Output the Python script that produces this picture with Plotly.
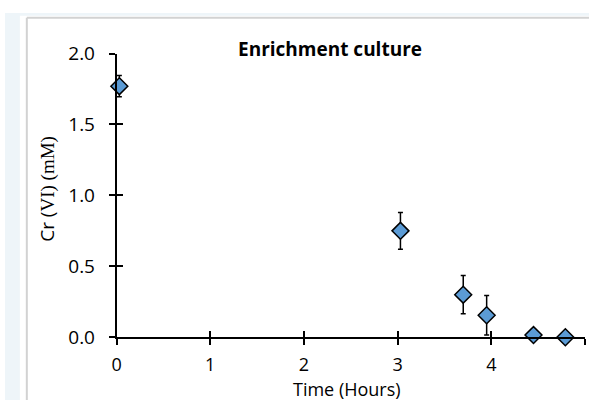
import plotly.graph_objects as go

# Cr(VI) concentration over time in the enrichment culture
time_h = [0.03, 3.03, 3.70, 3.95, 4.45, 4.79]
cr_mM = [1.77, 0.75, 0.30, 0.155, 0.015, 0.0]
cr_err = [0.075, 0.13, 0.135, 0.14, 0.01, 0.0]

x_ticks = [0, 1, 2, 3, 4, 5]
y_ticks = [0.0, 0.5, 1.0, 1.5, 2.0]
y_tick_text = ["0.0", "0.5", "1.0", "1.5", "2.0"]

W, H = 589, 413
SANS = "Open Sans"

fig = go.Figure()
fig.add_trace(go.Scatter(
    x=time_h, y=cr_mM, mode="markers",
    marker=dict(symbol="diamond", size=13, color="#5B9BD5",
                line=dict(color="black", width=1.5)),
    error_y=dict(type="data", array=cr_err, visible=True,
                 color="black", thickness=1.5, width=2.5),
    cliponaxis=False, showlegend=False,
))
# invisible trace that carries the inner tick marks
fig.add_trace(go.Scatter(x=[None], y=[None], xaxis="x2", yaxis="y2",
                         showlegend=False, hoverinfo="skip"))

xdom = [112.5 / W, 585 / W]
ydom = [(H - 346) / H, (H - 43.3) / H]

axis_common = dict(showgrid=False, zeroline=False, tickcolor="black",
                   tickwidth=1.5, ticklen=6)

fig.update_layout(
    width=W, height=H,
    margin=dict(l=0, r=0, t=0, b=0, pad=0),
    paper_bgcolor="white", plot_bgcolor="white",
    font=dict(family=SANS, color="black", size=19),
    xaxis=dict(domain=xdom, range=[0, 5], tickvals=x_ticks,
               showline=True, linecolor="black", linewidth=1.5,
               ticks="outside", ticklabelstandoff=4,
               tickfont=dict(size=18), **axis_common),
    yaxis=dict(domain=ydom, range=[0, 2], tickvals=y_ticks,
               ticktext=y_tick_text, showline=True, linecolor="black",
               linewidth=1.5, ticks="outside", ticklabelstandoff=10,
               tickfont=dict(size=19), **axis_common),
    xaxis2=dict(overlaying="x", anchor="y", side="bottom", range=[0, 5],
                tickvals=x_ticks, ticks="inside", showticklabels=False,
                showline=False, **axis_common),
    yaxis2=dict(overlaying="y", anchor="x", side="left", range=[0, 2],
                tickvals=y_ticks, ticks="inside", showticklabels=False,
                showline=False, **axis_common),
    shapes=[
        dict(type="rect", xref="paper", yref="paper", x0=0, x1=15 / W,
             y0=0, y1=1, fillcolor="#eef5f9", line_width=0, layer="below"),
        dict(type="rect", xref="paper", yref="paper", x0=0, x1=1,
             y0=1 - 3 / H, y1=1, fillcolor="#eef5f9", line_width=0,
             layer="below"),
        dict(type="line", xref="paper", yref="paper", x0=22 / W, x1=22 / W,
             y0=0, y1=1 - 5 / H, line=dict(color="#d2d2d2", width=2),
             layer="below"),
        dict(type="line", xref="paper", yref="paper", x0=22 / W, x1=1,
             y0=1 - 5 / H, y1=1 - 5 / H, line=dict(color="#d2d2d2", width=2),
             layer="below"),
    ],
    annotations=[
        dict(text="<b>Enrichment culture</b>", xref="paper", yref="paper",
             x=327.5 / W, y=1 - 38 / H, showarrow=False,
             xanchor="center", yanchor="middle", font=dict(size=19)),
        dict(text="Time (Hours)", xref="paper", yref="paper",
             x=344.5 / W, y=1 - 401 / H, showarrow=False,
             xanchor="center", yanchor="middle", font=dict(size=18)),
        dict(text="Cr (<span style=\"font-family:Liberation Serif\">VI) (mM)</span>",
             xref="paper", yref="paper", x=43 / W, y=1 - 188 / H,
             showarrow=False, textangle=-90, xanchor="center",
             yanchor="middle", font=dict(size=19)),
    ],
)

fig.write_html(
    "out.html",
    post_script="document.body.style.margin='0';",
)
